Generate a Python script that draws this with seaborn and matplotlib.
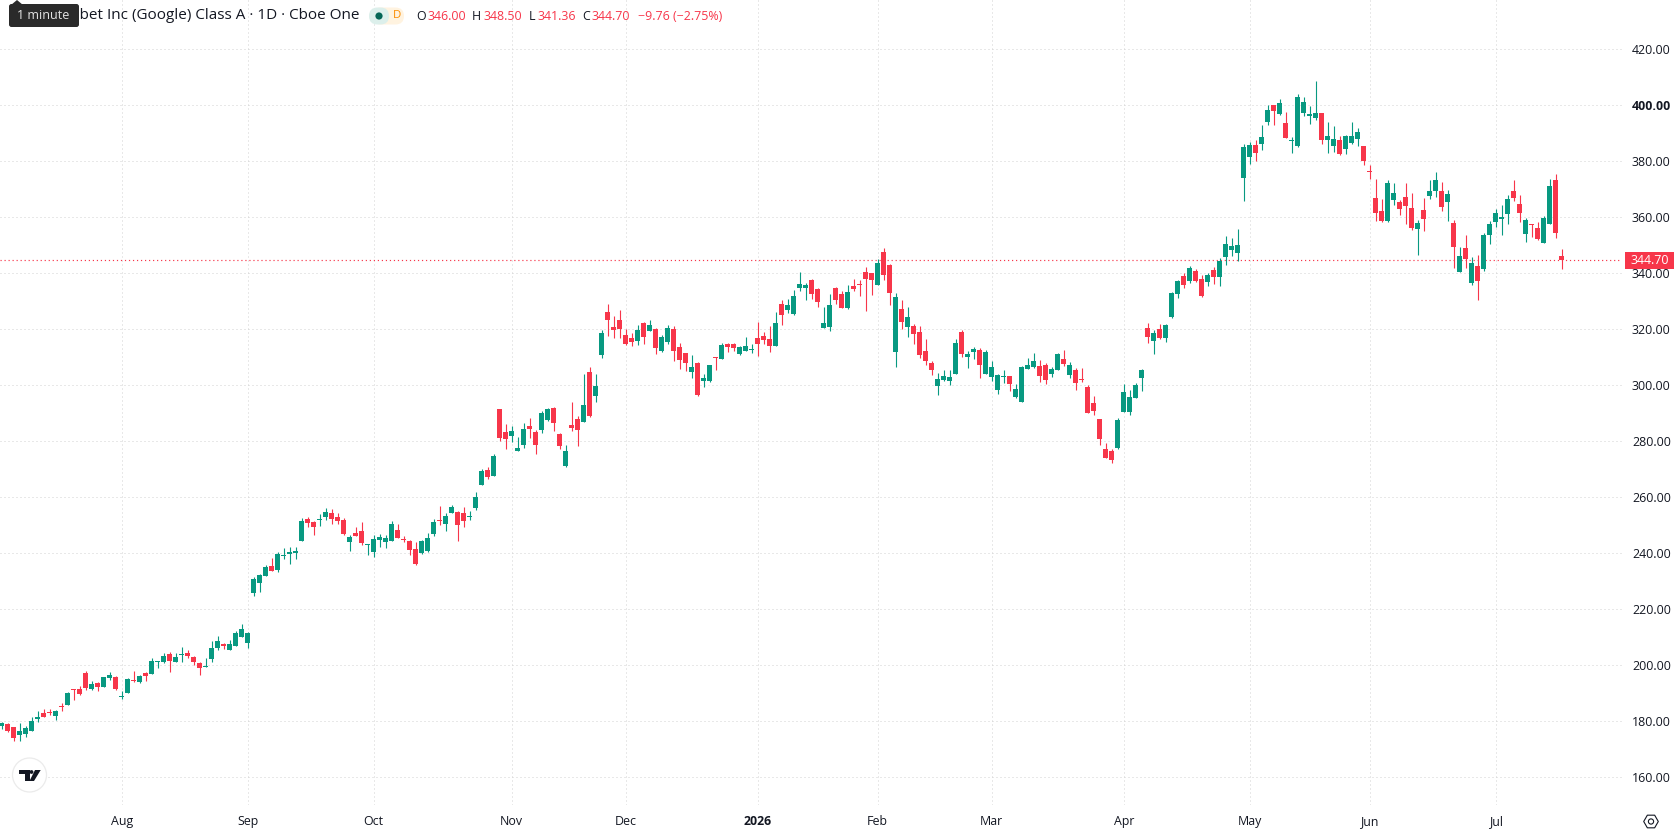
import numpy as np
import pandas as pd
import matplotlib
matplotlib.use("Agg")
import matplotlib.pyplot as plt
from matplotlib.patches import Circle, FancyBboxPatch, Polygon, Rectangle, RegularPolygon
import seaborn as sns

# Daily GOOGL candles, oldest first
opens = [
    178.3,179.0,178.0,175.1,175.5,176.5,180.8,183.0,183.4,181.9,
    185.6,185.8,191.5,191.5,197.3,191.5,193.7,192.3,195.5,195.8,
    188.7,190.1,194.8,194.0,197.3,196.9,201.0,201.2,204.0,201.2,
    203.8,204.4,203.0,200.8,199.4,202.3,206.2,207.7,205.5,206.9,
    210.1,208.0,225.8,229.4,231.9,235.5,234.0,239.0,239.8,240.1,
    244.4,252.3,251.2,251.9,253.0,254.4,253.0,251.9,244.0,247.3,
    248.0,243.0,240.5,244.8,244.0,244.4,248.3,245.1,244.4,241.5,
    240.1,240.8,246.9,251.9,250.5,254.4,254.8,254.4,253.0,256.2,
    264.4,269.8,267.6,291.5,283.3,281.9,276.5,278.7,285.5,283.3,
    284.0,287.6,291.9,282.6,271.2,285.8,288.0,286.9,304.8,296.2,
    310.8,326.2,320.8,323.3,318.0,316.9,315.8,322.3,319.4,320.1,
    312.3,315.5,320.1,313.7,311.5,304.8,308.0,301.5,301.5,310.1,
    309.4,314.8,314.8,311.2,312.3,312.6,316.9,317.6,316.5,314.0,
    329.0,326.9,325.5,334.8,334.8,337.6,334.4,320.5,320.8,334.8,
    332.6,327.6,335.5,336.2,340.5,340.1,335.8,347.6,343.0,311.9,
    327.3,320.8,321.2,319.0,312.3,308.0,299.8,301.9,301.5,304.0,
    319.0,310.1,311.9,312.6,304.0,303.0,298.3,303.0,303.3,295.8,
    294.0,305.8,306.5,306.9,307.3,304.0,305.5,309.4,303.7,305.5,
    302.3,299.4,293.7,288.0,277.3,276.5,277.6,290.5,290.5,295.5,
    302.6,320.5,315.8,320.1,316.9,324.4,332.6,339.0,337.3,340.8,
    338.0,336.9,341.2,338.7,345.8,348.3,347.3,374.0,381.5,385.8,
    386.2,394.0,400.1,396.9,393.7,387.3,385.5,397.3,396.2,395.5,
    397.3,387.6,385.5,387.6,384.4,386.5,388.0,385.5,376.5,366.9,
    362.3,358.7,366.2,365.5,367.3,363.3,355.8,362.6,367.6,369.4,
    369.4,365.5,358.0,340.5,349.0,336.5,342.6,341.5,353.7,358.3,
    359.4,361.2,369.4,364.8,354.0,357.6,356.2,350.8,357.6,373.3,346.0,
]
closes = [
    179.5,176.7,174.0,176.5,177.6,180.1,181.5,181.5,183.1,183.7,
    185.2,190.1,191.2,189.8,191.9,193.3,192.3,195.8,196.5,191.5,
    189.0,195.1,194.4,196.2,196.2,201.5,201.3,203.3,201.5,203.0,
    204.2,203.3,201.2,199.0,199.8,206.2,208.7,207.0,207.6,211.5,
    213.0,211.5,230.8,232.3,235.1,233.7,239.8,239.4,240.5,240.8,
    251.5,250.8,249.4,252.3,254.8,252.3,251.5,246.9,245.8,246.2,
    243.7,243.3,245.1,245.8,245.5,250.5,245.5,244.8,241.2,236.2,
    244.4,245.5,251.2,251.5,253.3,256.5,250.1,251.5,253.3,260.1,
    269.4,267.3,274.8,281.2,280.8,283.7,277.6,284.4,284.4,278.7,
    290.1,291.5,286.5,278.3,276.5,284.8,284.0,293.0,289.0,299.8,
    318.7,323.3,319.8,320.1,314.8,315.5,319.8,317.3,321.5,313.3,
    317.3,320.5,312.3,309.0,308.0,306.5,296.5,302.6,307.3,309.8,
    314.4,313.7,313.3,313.7,314.0,313.0,314.8,316.2,314.0,322.3,
    325.1,328.7,331.9,336.2,335.8,332.6,329.8,322.3,328.7,330.5,
    327.6,333.3,334.4,335.8,338.0,337.6,343.7,339.4,333.0,331.5,
    322.6,324.4,318.3,310.8,308.7,305.5,302.3,303.3,303.0,315.1,
    311.2,311.2,313.0,307.3,311.9,306.5,303.7,303.3,300.5,298.7,
    306.5,307.3,308.7,303.3,301.9,305.8,311.2,307.6,307.3,300.8,
    301.9,290.1,290.8,280.8,274.0,273.3,287.6,297.6,295.8,300.1,
    305.5,317.3,318.7,316.9,321.5,333.0,337.3,335.8,341.9,337.3,
    331.9,339.4,338.7,344.4,350.5,349.8,350.1,385.1,385.8,383.0,
    388.7,398.3,398.0,400.8,388.3,387.6,403.0,401.2,396.9,397.3,
    387.6,389.0,388.0,382.6,389.0,389.0,390.5,380.1,376.2,361.5,
    358.7,372.3,368.7,363.0,364.0,356.2,358.0,359.4,369.4,373.3,
    363.7,368.3,349.4,346.2,345.1,343.7,337.3,353.7,357.6,361.5,
    360.1,366.5,366.9,361.5,359.0,357.3,352.3,359.8,371.2,354.4,344.7,
]
highs = [
    179.9,179.3,178.0,179.4,178.3,181.5,183.7,184.4,184.4,184.0,
    186.5,190.5,191.5,192.6,198.0,194.4,194.0,195.8,197.6,196.2,
    190.8,195.5,198.0,196.5,197.6,202.6,201.5,204.4,204.8,204.4,
    206.5,205.5,203.3,201.2,202.6,208.7,210.5,208.0,209.0,212.3,
    214.8,211.9,231.5,232.6,235.8,238.3,240.5,241.9,242.3,242.3,
    252.6,253.0,251.5,254.0,256.2,255.8,254.4,252.6,246.5,249.4,
    251.2,243.3,246.5,246.9,246.5,251.5,250.5,246.2,244.8,244.0,
    244.8,247.3,252.3,256.9,254.4,257.3,255.1,256.5,255.1,261.9,
    270.1,270.8,275.5,291.5,286.2,285.5,281.5,286.5,288.3,284.0,
    290.8,291.9,292.3,283.0,278.7,294.0,289.0,304.0,306.5,304.0,
    319.8,329.0,324.8,326.9,320.1,318.7,321.5,322.6,323.3,320.5,
    318.0,321.5,321.2,315.1,311.5,310.8,308.3,304.0,307.3,310.1,
    315.1,315.1,315.1,314.0,317.3,314.8,322.6,319.0,321.2,326.2,
    330.5,330.8,334.0,340.5,336.5,338.0,334.8,328.0,332.6,335.1,
    333.7,335.8,338.0,337.6,342.3,340.1,345.1,349.0,343.3,333.0,
    330.5,328.0,321.9,321.2,316.5,308.7,304.4,305.5,305.5,316.5,
    319.8,312.3,313.7,313.3,312.6,308.7,304.0,305.5,303.3,300.5,
    306.9,309.8,311.5,309.0,308.0,306.5,311.5,312.6,308.3,306.2,
    306.2,300.1,296.2,288.0,279.4,277.3,288.3,300.5,298.3,300.8,
    305.8,322.3,319.8,321.9,321.9,333.3,337.6,340.1,342.6,341.5,
    339.4,340.1,342.3,345.5,353.3,352.6,355.8,386.2,386.9,387.6,
    393.0,400.1,400.1,402.3,397.6,388.7,404.0,403.0,399.8,408.7,
    397.3,394.0,392.6,389.0,389.4,394.0,391.9,385.5,378.7,373.7,
    366.5,373.3,372.3,366.2,372.3,368.7,359.0,366.9,373.3,376.2,
    372.6,369.8,359.0,349.4,353.7,345.8,346.5,354.4,358.7,363.0,
    364.4,368.0,373.3,368.0,359.8,357.6,358.3,360.5,373.7,375.5,348.5,
]
lows = [
    177.4,176.0,173.1,173.1,174.5,176.5,179.8,181.5,182.3,180.5,
    183.7,185.8,187.6,189.4,191.2,191.2,190.8,192.3,194.8,191.2,
    188.0,190.1,194.0,193.7,194.4,196.9,199.0,200.8,197.6,201.2,
    201.2,202.6,200.1,196.5,199.4,201.2,205.5,205.8,205.5,206.9,
    210.1,206.2,224.8,226.2,231.9,233.7,233.3,238.0,236.2,238.0,
    244.4,249.4,246.5,249.8,251.9,250.5,250.5,246.5,240.8,246.2,
    243.0,239.4,238.7,242.3,241.9,244.4,245.5,244.0,239.4,235.8,
    239.8,240.5,246.2,250.1,248.0,254.4,244.4,249.4,251.9,255.5,
    264.4,266.5,267.6,280.1,277.3,279.8,276.5,277.6,281.2,275.5,
    283.0,287.3,283.7,277.3,270.8,283.7,278.3,286.9,288.7,294.0,
    309.8,317.6,316.9,316.9,314.4,314.0,314.4,314.8,319.4,311.2,
    311.9,314.8,308.7,305.8,305.1,302.6,296.2,299.4,301.2,305.5,
    309.4,311.9,312.3,310.8,312.3,311.5,310.5,314.8,311.9,314.0,
    321.5,325.8,325.1,333.7,330.5,330.8,328.0,320.5,319.4,329.0,
    327.6,327.3,333.7,331.9,326.5,332.3,335.8,337.6,328.7,306.5,
    320.1,317.3,314.8,309.8,307.3,303.7,296.5,301.5,300.1,304.0,
    310.1,306.2,309.4,302.6,304.0,301.5,296.9,300.8,298.0,295.5,
    294.0,305.8,306.2,301.2,300.5,303.0,305.5,306.9,302.6,298.3,
    301.2,290.1,289.4,278.7,274.0,272.3,277.3,290.5,289.4,295.5,
    298.0,315.1,311.2,316.5,315.5,324.0,331.2,334.8,336.5,336.9,
    331.5,335.5,336.2,335.5,343.0,346.2,344.4,365.8,379.0,380.1,
    384.0,393.0,393.0,396.5,388.3,383.0,385.1,396.2,393.3,394.8,
    386.2,383.0,383.3,382.3,382.6,386.2,385.5,378.7,373.7,358.7,
    358.3,358.3,364.4,360.8,357.6,355.5,346.5,355.1,366.5,367.3,
    362.3,358.7,341.9,340.5,341.9,335.8,330.5,340.8,350.5,356.5,
    353.7,357.6,365.8,358.3,351.2,353.0,351.9,350.8,357.6,352.6,341.36,
]

# Session index of each month's first candle and its axis label
month_sessions = [20, 41, 62, 85, 104, 126, 146, 165, 187, 208, 228, 249]
month_labels = ["Aug", "Sep", "Oct", "Nov", "Dec", "2026", "Feb", "Mar", "Apr", "May", "Jun", "Jul"]
price_ticks = [160, 180, 200, 220, 240, 260, 280, 300, 320, 340, 360, 380, 400, 420]

symbol_title = "Alphabet Inc (Google) Class A · 1D · Cboe One"
ohlc_parts = [("O", 416, "346.00", 427), ("H", 472, "348.50", 483),
              ("L", 529, "341.36", 537), ("C", 582, "344.70", 591)]
change_text = "−9.76 (−2.75%)"

UP = "#089981"
DOWN = "#F7364A"
INK = "#131722"
GRID = "#D2D2D2"
W, H = 1678, 835
PLOT_W, PLOT_H = 1622, 805

sns.set_theme(style="white")
plt.rcParams["font.family"] = ["Open Sans", "DejaVu Sans"]
plt.rcParams["axes.unicode_minus"] = False

frame = pd.DataFrame({"session": np.arange(len(opens)), "open": opens, "high": highs,
                      "low": lows, "close": closes})
frame["rising"] = frame["close"] >= frame["open"]
frame["lower"] = frame[["open", "close"]].min(axis=1)
frame["body"] = (frame["close"] - frame["open"]).abs().clip(lower=0.36)

fig = plt.figure(figsize=(W / 100, H / 100), dpi=100, facecolor="white")
ax = fig.add_axes([0, (H - PLOT_H) / H, PLOT_W / W, PLOT_H / H])
ax.set_axisbelow(True)

# Wicks: one two-point line per session
wicks = frame.melt(id_vars=["session", "rising"], value_vars=["low", "high"], value_name="price")
sns.lineplot(data=wicks, x="session", y="price", units="session", estimator=None, hue="rising",
             palette={True: UP, False: DOWN}, legend=False, linewidth=0.8, sort=False,
             solid_capstyle="butt", ax=ax, zorder=2)

# Bodies: floating bars from the lower of open/close
for rising, color in ((True, UP), (False, DOWN)):
    part = frame[frame["rising"] == rising].sort_values("session")
    sns.barplot(data=part, x="session", y="body", bottom=part["lower"].to_numpy(), color=color,
                saturation=1, native_scale=True, width=5 / 6, linewidth=0, errorbar=None,
                ax=ax, zorder=3)

# Last-price marker line
ax.axhline(closes[-1], color=DOWN, linewidth=0.85, linestyle=(0, (1, 2.4)), zorder=1.5)

ax.set_xlim(-0.278, 270.05)
ax.set_ylim(150.1, 437.6)
ax.set_xticks(month_sessions, month_labels)
ax.set_yticks(price_ticks, [f"{p:.2f}" for p in price_ticks])
ax.yaxis.tick_right()
ax.grid(True, color=GRID, linewidth=0.72, linestyle=(0, (1, 3)))
ax.tick_params(axis="both", length=0, labelsize=8.9, labelcolor=INK)
ax.tick_params(axis="x", pad=7.5)
ax.tick_params(axis="y", pad=7.2)
ax.set_xlabel("")
ax.set_ylabel("")
for label in ax.get_xticklabels():
    label.set_fontweight("bold" if label.get_text() == "2026" else "normal")
for label in ax.get_yticklabels():
    label.set_fontweight("bold" if label.get_text() == "400.00" else "normal")
    label.set_verticalalignment("center_baseline")
sns.despine(ax=ax, left=True, right=True, top=True, bottom=True)

# Interface layer in screen pixels
ui = fig.add_axes([0, 0, 1, 1], facecolor="none")
ui.set_xlim(0, W)
ui.set_ylim(H, 0)
ui.axis("off")

ui.text(359.5, 15.5, symbol_title, ha="right", va="center", fontsize=11.0, color=INK)

ui.add_patch(FancyBboxPatch((372, 7.5), 32, 17, boxstyle="round,pad=0,rounding_size=8.5",
                            facecolor="#FFF3E0", edgecolor="none"))
ui.add_patch(FancyBboxPatch((369, 7.5), 20, 17, boxstyle="round,pad=0,rounding_size=8.5",
                            facecolor="#DCEFEB", edgecolor="none"))
ui.add_patch(Circle((379, 16), 3.6, facecolor="#056656", edgecolor="none"))
ui.text(396.5, 15.5, "D", ha="center", va="center", fontsize=8.2, color="#FB8C00")

for key, kx, value, vx in ohlc_parts:
    ui.text(kx, 16, key, ha="left", va="center", fontsize=8.9, color=INK)
    ui.text(vx, 16, value, ha="left", va="center", fontsize=8.9, color=DOWN)
ui.text(638, 16, change_text, ha="left", va="center", fontsize=8.9, color=DOWN)

# Tooltip above the symbol title
ui.add_patch(FancyBboxPatch((9, 4), 70, 23, boxstyle="round,pad=0,rounding_size=2.5",
                            facecolor="#2A2A2A", edgecolor="none", zorder=5))
ui.add_patch(Polygon([(11, 5), (17, 0), (23, 5)], closed=True, facecolor="#2A2A2A",
                     edgecolor="none", zorder=5))
ui.text(43.5, 15.5, "1 minute", ha="center", va="center", fontsize=9, color="#E4E4E4", zorder=6)

# Last-price tag on the scale
ui.add_patch(Rectangle((1625, 252), 49, 17, facecolor=DOWN, edgecolor="none", zorder=5))
ui.text(1650, 260.3, f"{closes[-1]:.2f}", ha="center", va="center", fontsize=8.9, color="white", zorder=6)

# Vendor badge
ui.add_patch(Circle((29.5, 775), 17, facecolor="white", edgecolor="#EBEBEB", linewidth=0.9, zorder=5))
mark = "#131722"
ui.add_patch(Polygon([(19, 770), (30, 770), (30, 781), (25, 781), (25, 774), (19, 774)],
                     closed=True, facecolor=mark, edgecolor="none", zorder=6))
ui.add_patch(Circle((31.5, 772), 1.9, facecolor=mark, edgecolor="none", zorder=6))
ui.add_patch(Polygon([(35, 770), (40.7, 770), (34, 781), (29.5, 781)], closed=True,
                     facecolor=mark, edgecolor="none", zorder=6))

# Scale settings button
ui.add_patch(RegularPolygon((1651, 821.5), 6, radius=7.3, orientation=np.pi / 6, facecolor="none",
                            edgecolor=INK, linewidth=0.8))
ui.add_patch(Circle((1651, 821.5), 2.6, facecolor="none", edgecolor=INK, linewidth=0.8))

fig.savefig("out.png", dpi=100, facecolor="white")
